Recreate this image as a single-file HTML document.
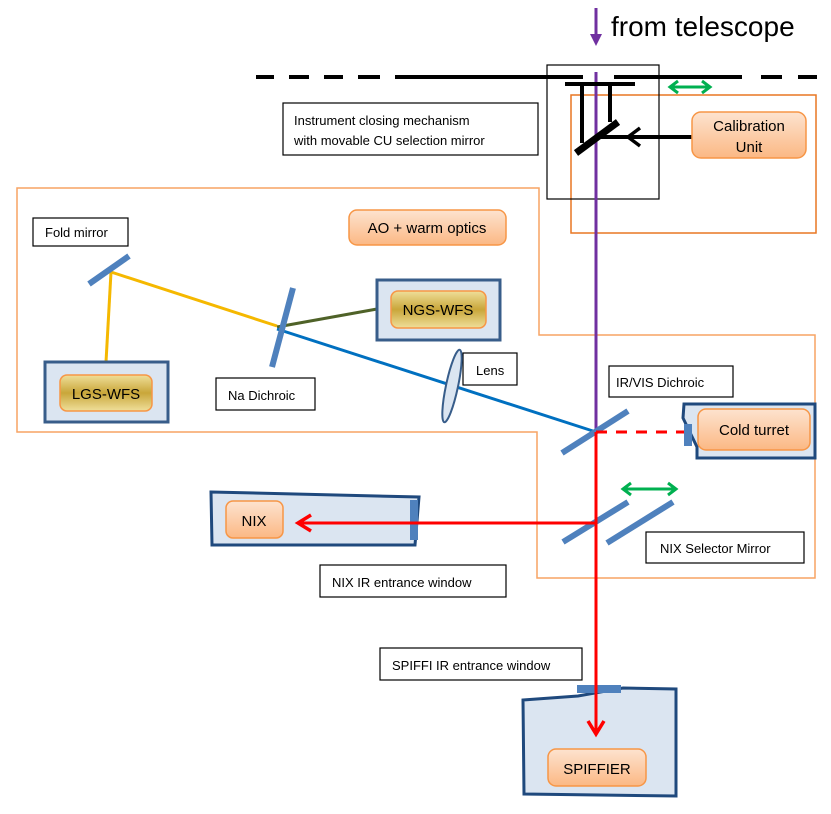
<!DOCTYPE html>
<html><head><meta charset="utf-8"><style>
html,body{margin:0;padding:0;background:#fff;}
svg{display:block;font-family:"Liberation Sans","DejaVu Sans",sans-serif;}
</style></head><body>
<svg width="831" height="814" viewBox="0 0 831 814" xmlns="http://www.w3.org/2000/svg">
<defs>
<linearGradient id="org" x1="0" y1="0" x2="0" y2="1"><stop offset="0" stop-color="#fde3cf"/><stop offset="1" stop-color="#fbb884"/></linearGradient>
<linearGradient id="gld" x1="0" y1="0" x2="0" y2="1"><stop offset="0" stop-color="#efdf9a"/><stop offset="0.5" stop-color="#c9a63a"/><stop offset="1" stop-color="#efdf9a"/></linearGradient>
</defs>
<polygon points="17,188 539,188 539,335 815,335 815,578 537,578 537,432 17,432" fill="none" stroke="#f7a464" stroke-width="1.5"/>
<rect x="571" y="95" width="245" height="138" fill="none" stroke="#e87722" stroke-width="1.5"/>
<rect x="547" y="65" width="112" height="134" fill="none" stroke="#000" stroke-width="1.2"/>
<g stroke="#000" stroke-width="4">
<line x1="256" y1="77" x2="274" y2="77"/><line x1="289" y1="77" x2="309" y2="77"/><line x1="324" y1="77" x2="343" y2="77"/><line x1="358" y1="77" x2="380" y2="77"/><line x1="395" y1="77" x2="583" y2="77"/><line x1="614" y1="77" x2="742" y2="77"/><line x1="761" y1="77" x2="782" y2="77"/><line x1="798" y1="77" x2="817" y2="77"/>
</g>
<line x1="596" y1="8" x2="596" y2="36" stroke="#7030a0" stroke-width="3"/>
<polygon points="590,34 602,34 596,46" fill="#7030a0"/>
<line x1="596" y1="72" x2="596" y2="432" stroke="#7030a0" stroke-width="3"/>
<text x="611" y="36" font-size="28" fill="#000">from telescope</text>
<g stroke="#000" stroke-width="4" fill="none">
<line x1="565" y1="84" x2="635" y2="84"/>
<line x1="582" y1="84" x2="582" y2="143"/>
<line x1="610" y1="84" x2="610" y2="122"/>
<line x1="576" y1="153" x2="618" y2="122" stroke-width="7"/>
<line x1="600" y1="137" x2="692" y2="137"/>
<polyline points="640,128 628,137 640,146" stroke-width="3.5"/>
</g>
<g stroke="#00b050" stroke-width="3" fill="none">
<line x1="670" y1="87" x2="710" y2="87"/><polyline points="678,81 670,87 678,93"/><polyline points="702,81 710,87 702,93"/>
<line x1="623" y1="489" x2="676" y2="489"/><polyline points="631,483 623,489 631,495"/><polyline points="668,483 676,489 668,495"/>
</g>
<g fill="#fff" stroke="#000" stroke-width="1.2">
<rect x="283" y="103" width="255" height="52"/>
<rect x="33" y="218" width="95" height="28"/>
<rect x="216" y="378" width="99" height="32"/>
<rect x="463" y="353" width="54" height="32"/>
<rect x="609" y="366" width="124" height="31"/>
<rect x="646" y="532" width="158" height="31"/>
<rect x="320" y="565" width="186" height="32"/>
<rect x="380" y="648" width="202" height="32"/>
</g>
<g font-size="13" fill="#000">
<text x="294" y="125">Instrument closing mechanism</text>
<text x="294" y="145">with movable CU selection  mirror</text>
<text x="45" y="237">Fold mirror</text>
<text x="228" y="400">Na Dichroic</text>
<text x="476" y="375">Lens</text>
<text x="616" y="387">IR/VIS Dichroic</text>
<text x="660" y="553">NIX Selector Mirror</text>
<text x="332" y="587">NIX IR entrance window</text>
<text x="392" y="670">SPIFFI IR entrance window</text>
</g>
<rect x="692" y="112" width="114" height="46" rx="9" fill="url(#org)" stroke="#f79646" stroke-width="1.5"/>
<text x="749" y="131" font-size="15" text-anchor="middle">Calibration</text>
<text x="749" y="152" font-size="15" text-anchor="middle">Unit</text>
<rect x="349" y="210" width="157" height="35" rx="8" fill="url(#org)" stroke="#f79646" stroke-width="1.5"/>
<text x="427" y="233" font-size="15" text-anchor="middle">AO + warm optics</text>
<line x1="111" y1="272" x2="106" y2="362" stroke="#f5b800" stroke-width="3"/>
<line x1="111" y1="272" x2="277" y2="326" stroke="#f5b800" stroke-width="3"/>
<line x1="277" y1="327" x2="377" y2="309" stroke="#4f6228" stroke-width="3"/>
<line x1="277" y1="329" x2="596" y2="432" stroke="#0070c0" stroke-width="3"/>
<g stroke="#4f81bd" stroke-width="6">
<line x1="89" y1="284" x2="129" y2="256"/>
<line x1="293" y1="288" x2="272" y2="367"/>
<line x1="562" y1="453" x2="628" y2="411"/>
<line x1="563" y1="542" x2="628" y2="502"/>
<line x1="607" y1="543" x2="673" y2="502"/>
</g>
<ellipse cx="452" cy="386" rx="6" ry="37" transform="rotate(12 452 386)" fill="#dbe5f1" stroke="#385d8a" stroke-width="2"/>
<rect x="45" y="362" width="123" height="60" fill="#dbe5f1" stroke="#385d8a" stroke-width="3"/>
<rect x="60" y="375" width="92" height="36" rx="7" fill="url(#gld)" stroke="#f79646" stroke-width="1.5"/>
<text x="106" y="399" font-size="15" text-anchor="middle">LGS-WFS</text>
<rect x="377" y="280" width="123" height="60" fill="#dbe5f1" stroke="#385d8a" stroke-width="3"/>
<rect x="391" y="291" width="95" height="37" rx="7" fill="url(#gld)" stroke="#f79646" stroke-width="1.5"/>
<text x="438" y="315" font-size="15" text-anchor="middle">NGS-WFS</text>
<polygon points="684,404 815,404 815,458 697,458 697,447 683,418" fill="#dbe5f1" stroke="#1f497d" stroke-width="3"/>
<rect x="684" y="424" width="8" height="22" fill="#4f81bd"/>
<rect x="698" y="409" width="112" height="41" rx="8" fill="url(#org)" stroke="#f79646" stroke-width="1.5"/>
<text x="754" y="435" font-size="15" text-anchor="middle">Cold turret</text>
<line x1="596" y1="432" x2="684" y2="432" stroke="#ff0000" stroke-width="3" stroke-dasharray="11,9"/>
<line x1="596" y1="432" x2="596" y2="732" stroke="#ff0000" stroke-width="3"/>
<polygon points="211,492 419,497 415,545 212,545" fill="#dbe5f1" stroke="#1f497d" stroke-width="3"/>
<polygon points="410,500 418,500 418,540 410,540" fill="#4f81bd"/>
<rect x="226" y="501" width="57" height="37" rx="7" fill="url(#org)" stroke="#f79646" stroke-width="1.5"/>
<text x="254" y="526" font-size="15" text-anchor="middle">NIX</text>
<line x1="596" y1="523" x2="300" y2="523" stroke="#ff0000" stroke-width="3"/>
<polyline points="311,515 298,523 311,531" fill="none" stroke="#ff0000" stroke-width="3.5"/>
<polygon points="523,700 578,696 623,688 676,689 676,796 524,794" fill="#dbe5f1" stroke="#1f497d" stroke-width="3"/>
<rect x="577" y="685" width="44" height="8" fill="#4f81bd"/>
<line x1="596" y1="685" x2="596" y2="732" stroke="#ff0000" stroke-width="3"/>
<polyline points="588,721 596,734 604,721" fill="none" stroke="#ff0000" stroke-width="3.5"/>
<rect x="548" y="749" width="98" height="37" rx="8" fill="url(#org)" stroke="#f79646" stroke-width="1.5"/>
<text x="597" y="774" font-size="15" text-anchor="middle">SPIFFIER</text>
</svg>
</body></html>
